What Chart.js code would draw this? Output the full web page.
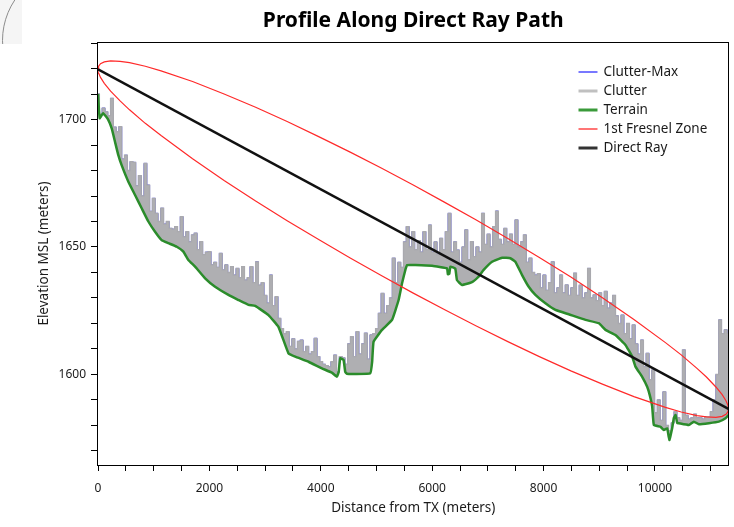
<!DOCTYPE html>
<html>
<head>
<meta charset="utf-8">
<script src="https://cdn.jsdelivr.net/npm/chart.js@4.4.1/dist/chart.umd.min.js"></script>
<style>
  html, body { margin: 0; padding: 0; background: #fff; }
  #wrap { position: relative; width: 734px; height: 527px; overflow: hidden; }
  #corner { position: absolute; left: 0; top: 0; width: 22px; height: 44px; overflow: hidden; background: #f5f5f5; }
  #corner div { position: absolute; left: 2px; top: -33px; width: 145px; height: 145px; border: 1.5px solid #8c8c8c; border-radius: 50%; }
  canvas { position: absolute; left: 0; top: 0; }
</style>
</head>
<body>
<div id="wrap">
  <div id="corner"><div></div></div>
  <canvas id="profile" width="734" height="527"></canvas>
</div>
<script>
// ---- Path geometry (meters) ----
const PATH_LENGTH = 11320;

// Direct ray: TX antenna to RX antenna
const rayDist = [0, 11320];
const rayElev = [1719.7, 1586.5];

// Terrain elevation along the path
const terrainDist = [0, 30, 91, 182, 246, 305, 365, 426, 545, 665, 784, 904, 1024, 1143, 1263, 1414, 1533, 1623, 1743, 1923,
  2102, 2342, 2522, 2702, 2822, 3061, 3240, 3420, 3540, 3780, 4020, 4199, 4289, 4321, 4349, 4409, 4439, 4467, 4619, 4889,
  4922, 4948, 5099, 5279, 5397, 5459, 5518, 5549, 5696, 5998, 6266, 6282, 6307, 6327, 6415, 6445, 6535, 6715, 6834, 6924,
  7075, 7255, 7403, 7493, 7614, 7733, 7853, 8033, 8213, 8452, 8752, 8991, 9111, 9290, 9470, 9591, 9650, 9770, 9860, 9905,
  9950, 9980, 10100, 10160, 10219, 10243, 10261, 10284, 10309, 10339, 10369, 10400, 10428, 10608, 10698, 10788, 10968, 11147, 11267, 11320];
const terrainElev = [1710, 1700.5, 1702.5, 1700, 1696.5, 1691.3, 1686, 1682, 1675.6, 1670.4, 1665.2, 1660, 1656, 1652.7, 1651.5, 1650.1, 1648.2, 1644.9, 1642.3, 1637.7,
  1634.4, 1631.2, 1629.2, 1627.3, 1626.9, 1623.3, 1618.7, 1608.3, 1607, 1605, 1602.4, 1600.7, 1599.1, 1601, 1606.4, 1605.7, 1601, 1600.3, 1600.2, 1600.5,
  1605, 1612.9, 1617.5, 1621.4, 1629.2, 1635.8, 1641, 1642.9, 1642.9, 1642.6, 1641.6, 1639.3, 1639.5, 1642.3, 1641.5, 1637, 1635.1, 1636.2, 1638.4, 1641,
  1644.2, 1645.8, 1645.6, 1644.2, 1639, 1634.4, 1631.2, 1627.9, 1625.3, 1623.6, 1621.4, 1620.1, 1617.5, 1615.5, 1611.6, 1607, 1603.1, 1599.1, 1595.2, 1592,
  1587.4, 1580.2, 1579.5, 1578.2, 1578.9, 1576, 1574.3, 1576.5, 1579, 1583, 1584.1, 1581, 1580.9, 1580.2, 1581.5, 1580.5, 1580.9, 1581.5, 1582.8, 1584.1];

// Clutter top (terrain + clutter), evenly sampled from 0 to PATH_LENGTH
const clutterElev = [
  1710, 1702, 1704.5, 1703, 1701.5, 1708.3, 1697, 1695.2, 1697.2, 1684.5, 1686, 1680, 1683.5, 1683.2, 1674, 1678, 1670, 1682.8, 1674.3, 1664,
  1669.1, 1663.2, 1660, 1665.2, 1659, 1660, 1657.3, 1657, 1658, 1656, 1661.9, 1654, 1656, 1652, 1654.7, 1655.4, 1649, 1652.1, 1647, 1648,
  1648.2, 1643, 1644, 1642, 1647.5, 1641, 1643, 1640, 1642.3, 1639, 1641.6, 1638, 1642.3, 1637, 1638, 1642.3, 1636, 1644.2, 1635, 1636,
  1631, 1628, 1639, 1627, 1630.5, 1622, 1618, 1616, 1616.8, 1611, 1614, 1610, 1613, 1613.5, 1609, 1611, 1608, 1609, 1614.2, 1607,
  1605, 1604, 1603.5, 1603, 1605, 1607.6, 1601, 1607, 1606.5, 1604, 1612, 1614.8, 1607, 1616.8, 1608, 1612, 1616.2, 1606, 1615.5, 1616,
  1618, 1624, 1631.8, 1624, 1627, 1630, 1645.6, 1636, 1644, 1642, 1652, 1658, 1650, 1656, 1649, 1652.5, 1648, 1656, 1649, 1658.6,
  1648, 1652, 1647, 1653.4, 1649, 1656, 1663.2, 1648, 1652, 1648.8, 1644, 1650, 1656.7, 1645, 1652.1, 1646.2, 1650, 1648, 1663.2, 1651,
  1655, 1650, 1658, 1664.1, 1653, 1651, 1657.3, 1652, 1655, 1651, 1660.6, 1650, 1652, 1654.7, 1644, 1645.6, 1640, 1639, 1639.5, 1634,
  1639, 1633, 1636, 1644.2, 1632, 1634, 1639, 1632, 1635.1, 1631, 1634, 1639.7, 1631, 1635, 1630, 1632, 1641.6, 1630, 1631.2, 1629,
  1632, 1627, 1632.6, 1626, 1628, 1631, 1623, 1620, 1623.3, 1616, 1620, 1614, 1619.4, 1612, 1608, 1613.5, 1603, 1608.3, 1598, 1601.8,
  1585, 1590, 1582, 1593.2, 1580, 1578, 1581, 1585.4, 1583, 1582, 1609.6, 1584, 1582.5, 1583, 1584.4, 1583, 1583, 1582.5, 1583.5, 1583.5,
  1585.4, 1590, 1600, 1621.4, 1616, 1617.5, 1616.1];

// First Fresnel zone boundary (upper and lower edge) along the path
const fresnelDist = [0, 11.3, 45.3, 113.2, 226.4, 396.2, 566, 849, 1132, 1698, 2264, 2830, 3396, 3962, 4528, 5094, 5660,
  6226, 6792, 7358, 7924, 8490, 9056, 9622, 10188, 10471, 10754, 10923.8, 11093.6, 11206.8, 11274.7, 11308.7, 11320];
const fresnelUpper = [1719.7, 1720.9, 1721.9, 1722.6, 1723.0, 1722.8, 1722.3, 1720.9, 1719.1, 1714.9, 1710.0, 1704.8, 1699.2, 1693.3, 1687.2, 1680.9, 1674.3,
  1667.5, 1660.6, 1653.3, 1645.9, 1638.2, 1630.1, 1621.6, 1612.5, 1607.7, 1602.4, 1599.0, 1595.1, 1592.1, 1589.7, 1588.0, 1586.5];
const fresnelLower = [1719.7, 1718.2, 1716.5, 1714.2, 1711.1, 1707.3, 1703.8, 1698.5, 1693.7, 1684.6, 1676.1, 1668.0, 1660.3, 1652.9, 1645.7, 1638.7, 1631.9,
  1625.4, 1619.0, 1612.9, 1607.0, 1601.4, 1596.2, 1591.3, 1587.1, 1585.3, 1583.9, 1583.4, 1583.2, 1583.6, 1584.4, 1585.3, 1586.5];

// Axis ticks
const xTicks = [0, 500, 1000, 1500, 2000, 2500, 3000, 3500, 4000, 4500, 5000, 5500, 6000, 6500, 7000, 7500, 8000, 8500, 9000, 9500, 10000, 10500, 11000];
const xLabeled = [0, 2000, 4000, 6000, 8000, 10000];
const yTicks = [1570, 1580, 1590, 1600, 1610, 1620, 1630, 1640, 1650, 1660, 1670, 1680, 1690, 1700, 1710, 1720, 1730];
const yLabeled = [1600, 1650, 1700];
const Y_MIN = 1564.5, Y_MAX = 1730.4;

// ---- Build point lists ----
const toPoints = (xs, ys) => xs.map((x, i) => ({ x: x, y: ys[i] }));
const clutterStep = PATH_LENGTH / (clutterElev.length - 1);
const clutterPoints = clutterElev.map((v, i) => ({ x: i * clutterStep, y: v }));
const terrainPoints = toPoints(terrainDist, terrainElev);
const rayPoints = toPoints(rayDist, rayElev);
// closed outline: upper edge left to right, lower edge back right to left
const fresnelPoints = toPoints(fresnelDist, fresnelUpper)
  .concat(toPoints(fresnelDist, fresnelLower).reverse());

const FONT = '"Noto Sans", "DejaVu Sans", sans-serif';
const TEXT = '#1a1a1a';

// Plot frame on all four sides
const framePlugin = {
  id: 'frame',
  afterDraw(chart) {
    const { ctx, chartArea: a } = chart;
    ctx.save();
    ctx.strokeStyle = '#000';
    ctx.lineWidth = 1;
    const l = Math.round(a.left) - 0.5, t = Math.round(a.top) + 0.5;
    const r = Math.round(a.right) - 0.5, b = Math.round(a.bottom) + 0.5;
    ctx.strokeRect(l, t, r - l, b - t);
    ctx.restore();
  }
};

// Legend drawn inside the plot, top right
const insideLegend = {
  id: 'insideLegend',
  afterDraw(chart) {
    const { ctx, chartArea: a } = chart;
    const x0 = a.right - 150, y0 = a.top + 30, row = 19;
    ctx.save();
    ctx.font = '13.5px ' + FONT;
    ctx.textBaseline = 'middle';
    ctx.textAlign = 'left';
    chart.data.datasets.forEach((ds, i) => {
      const y = y0 + i * row;
      ctx.strokeStyle = ds.legendColor || ds.borderColor;
      ctx.lineWidth = ds.legendWidth || ds.borderWidth;
      ctx.beginPath();
      ctx.moveTo(x0, y);
      ctx.lineTo(x0 + 19, y);
      ctx.stroke();
      ctx.fillStyle = TEXT;
      ctx.fillText(ds.label, x0 + 25, y);
    });
    ctx.restore();
  }
};

new Chart(document.getElementById('profile'), {
  type: 'line',
  data: {
    datasets: [
      { label: 'Clutter-Max', data: clutterPoints, borderColor: '#2f2fff', borderWidth: 1, stepped: 'middle',
        pointRadius: 0, fill: false, order: 5, legendWidth: 1.3 },
      { label: 'Clutter', data: clutterPoints, borderColor: '#a9a9ae', borderWidth: 1.3, stepped: 'middle',
        pointRadius: 0, fill: { target: 2 }, backgroundColor: '#afafb2', order: 4,
        legendColor: '#c0c0c0', legendWidth: 3 },
      { label: 'Terrain', data: terrainPoints, borderColor: '#2b8c2b', borderWidth: 2.5, tension: 0.1,
        pointRadius: 0, fill: false, order: 3, legendColor: '#3a9a3a', legendWidth: 3 },
      { label: '1st Fresnel Zone', data: fresnelPoints, borderColor: '#ff2a2a', borderWidth: 1.2, tension: 0,
        pointRadius: 0, fill: false, order: 2, legendWidth: 1.3 },
      { label: 'Direct Ray', data: rayPoints, borderColor: '#111111', borderWidth: 2.6,
        pointRadius: 0, fill: false, order: 1, legendColor: '#333333', legendWidth: 3 }
    ]
  },
  options: {
    responsive: false,
    animation: false,
    devicePixelRatio: 1,
    events: [],
    layout: { padding: { left: 0, right: 5.5, top: 0, bottom: 0 } },
    plugins: {
      legend: { display: false },
      tooltip: { enabled: false },
      title: {
        display: true,
        fullSize: false,
        text: 'Profile Along Direct Ray Path',
        color: '#000',
        font: { family: FONT, size: 21, weight: 'bold', lineHeight: 1.2 },
        padding: { top: 8.5, bottom: 8.3 }
      }
    },
    scales: {
      x: {
        type: 'linear',
        min: 0,
        max: PATH_LENGTH,
        afterBuildTicks: s => { s.ticks = xTicks.map(v => ({ value: v })); },
        afterFit: s => { s.height = 62; },
        ticks: {
          autoSkip: false, maxRotation: 0, padding: 10, color: TEXT,
          font: { family: FONT, size: 12 },
          callback: v => (xLabeled.includes(v) ? String(v) : '')
        },
        grid: { drawOnChartArea: false, drawTicks: true, tickLength: 6, color: '#000' },
        border: { display: false },
        title: {
          display: true, text: 'Distance from TX (meters)', color: TEXT,
          font: { family: FONT, size: 13.5 }, padding: { top: 0, bottom: 11 }
        }
      },
      y: {
        type: 'linear',
        min: Y_MIN,
        max: Y_MAX,
        afterBuildTicks: s => { s.ticks = yTicks.map(v => ({ value: v })); },
        afterFit: s => { s.width = 98; },
        ticks: {
          autoSkip: false, padding: 5, color: TEXT,
          font: { family: FONT, size: 12 },
          callback: v => (yLabeled.includes(v) ? String(v) : '')
        },
        grid: { drawOnChartArea: false, drawTicks: true, tickLength: 7, color: '#000' },
        border: { display: false },
        title: {
          display: true, text: 'Elevation MSL (meters)', color: TEXT,
          font: { family: FONT, size: 13.5 }, padding: { top: 36, bottom: 0 }
        }
      }
    }
  },
  plugins: [framePlugin, insideLegend]
});
</script>
</body>
</html>
